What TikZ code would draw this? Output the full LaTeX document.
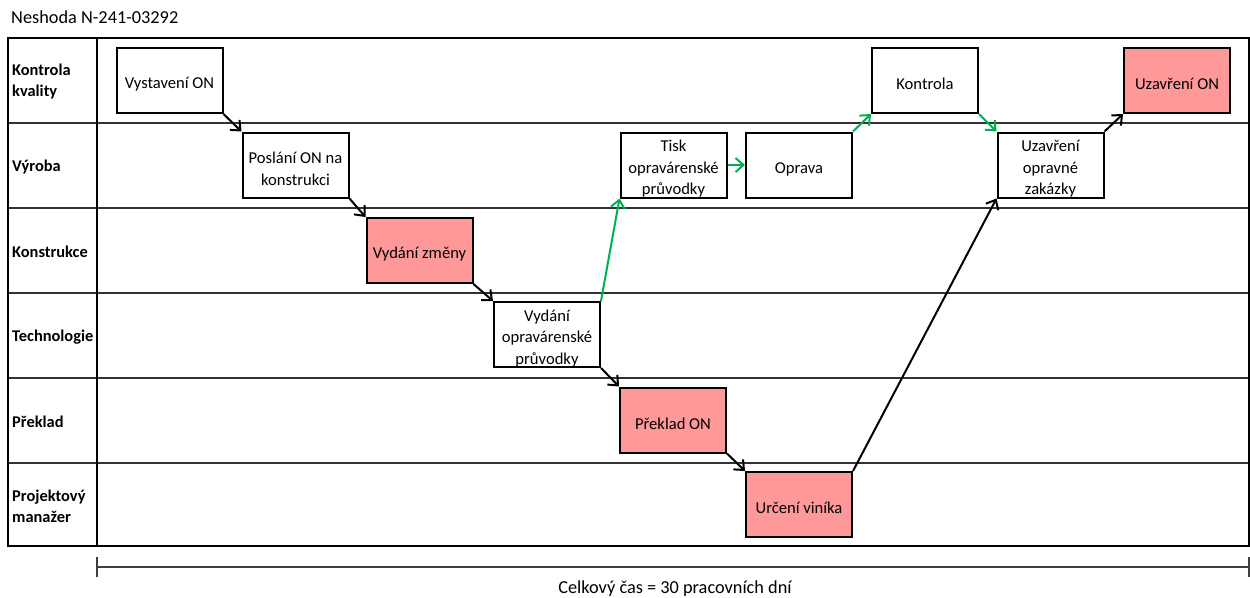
\documentclass[tikz,border=0pt]{standalone}
\usepackage{fontspec}
\setmainfont{Carlito}
\usetikzlibrary{arrows.meta}
\definecolor{pinkfill}{HTML}{FF9999}
\definecolor{flowgreen}{HTML}{00B050}
% taller first line: drops the box text a little below the geometric centre
\newcommand\firststrut{\rule{0pt}{19pt}}

\begin{document}
\begin{tikzpicture}[x=1pt,y=-1pt,
  frame/.style={draw=black,line width=2pt},
  laneline/.style={draw=black!80,line width=1.1pt},
  lanelabel/.style={anchor=west,align=left,inner sep=0pt,
    font=\fontsize{16.4}{21}\selectfont\bfseries},
  task/.style={draw=black,line width=2pt,fill=white,minimum width=106pt,
    minimum height=65pt,inner sep=0pt,align=center,
    font=\fontsize{16.6}{21.5}\selectfont},
  hot/.style={task,fill=pinkfill},
  flow/.style={line width=2pt,draw=black,
    -{Straight Barb[length=8pt,width=14pt]}},
  gflow/.style={flow,draw=flowgreen},
  bigtext/.style={inner sep=0pt,font=\fontsize{18.3}{22}\selectfont}]

\useasboundingbox (0,0) rectangle (1250,597);

% title
\node[bigtext,anchor=west] (title) at (11,17) {Neshoda N-241-03292};

% swimlane grid
\foreach \y in {123,208,293,378,463}
  \draw[laneline] (8,\y) -- (1249,\y);
\draw[frame] (8,38) rectangle (1249,546);
\draw[frame] (97,38) -- (97,546);

% lane names
\node[lanelabel] (l1) at (12,82) {Kontrola\\kvality};
\node[lanelabel] (l2) at (12,167) {Výroba};
\node[lanelabel] (l3) at (12,252) {Konstrukce};
\node[lanelabel] (l4) at (12,337) {Technologie};
\node[lanelabel] (l5) at (12,422) {Překlad};
\node[lanelabel] (l6) at (12,506) {Projektový\\manažer};

% process steps
\node[task] (vyst)   at (169.5,80.5)  {\firststrut Vystavení ON};
\node[task] (posl)   at (295.5,165)   {\firststrut Poslání ON na\\konstrukci};
\node[hot]  (zmena)  at (419.5,250.5) {\firststrut Vydání změny};
\node[task] (vydpr)  at (547,334.5)   {\firststrut Vydání\\opravárenské\\průvodky};
\node[task] (tisk)   at (673.5,165)   {\firststrut Tisk\\opravárenské\\průvodky};
\node[task] (oprava) at (799,165)     {\firststrut Oprava};
\node[hot]  (preklad) at (673,420)    {\firststrut Překlad ON};
\node[hot]  (vinik)  at (799,504.5)   {\firststrut Určení viníka};
\node[task] (kontr)  at (925,80.5)    {\firststrut Kontrola};
\node[hot]  (uzavON) at (1177,80.5)   {\firststrut Uzavření ON};
\node[task] (uzavOZ) at (1050.5,165)  {\firststrut Uzavření\\opravné\\zakázky};

% main flow
\draw[flow] (vyst.south east) -- (posl.north west);
\draw[flow] (posl.south east) -- (zmena.north west);
\draw[flow] (zmena.south east) -- (vydpr.north west);
\draw[flow] (vydpr.south east) -- (preklad.north west);
\draw[flow] (preklad.south east) -- (vinik.north west);
\draw[flow] (vinik.north east) -- (uzavOZ.south west);
\draw[flow] (uzavOZ.north east) -- (uzavON.south west);

% repair loop
\draw[gflow] (vydpr.north east) -- (tisk.south west);
\draw[gflow] (tisk.east) -- (oprava.west);
\draw[gflow] (oprava.north east) -- (kontr.south west);
\draw[gflow] (kontr.south east) -- (uzavOZ.north west);

% total time span
\coordinate (tl) at (97,567);
\coordinate (tr) at (1249,567);
\draw[black!75,line width=1.2pt] ([yshift=-10pt]tl) -- ([yshift=10pt]tl);
\draw[black!75,line width=1.2pt] ([yshift=-10pt]tr) -- ([yshift=10pt]tr);
\draw[black!75,line width=1.2pt] (tl) -- (tr);
\node[bigtext] (total) at (675,589) {Celkový čas = 30 pracovních dní};
\end{tikzpicture}
\end{document}
